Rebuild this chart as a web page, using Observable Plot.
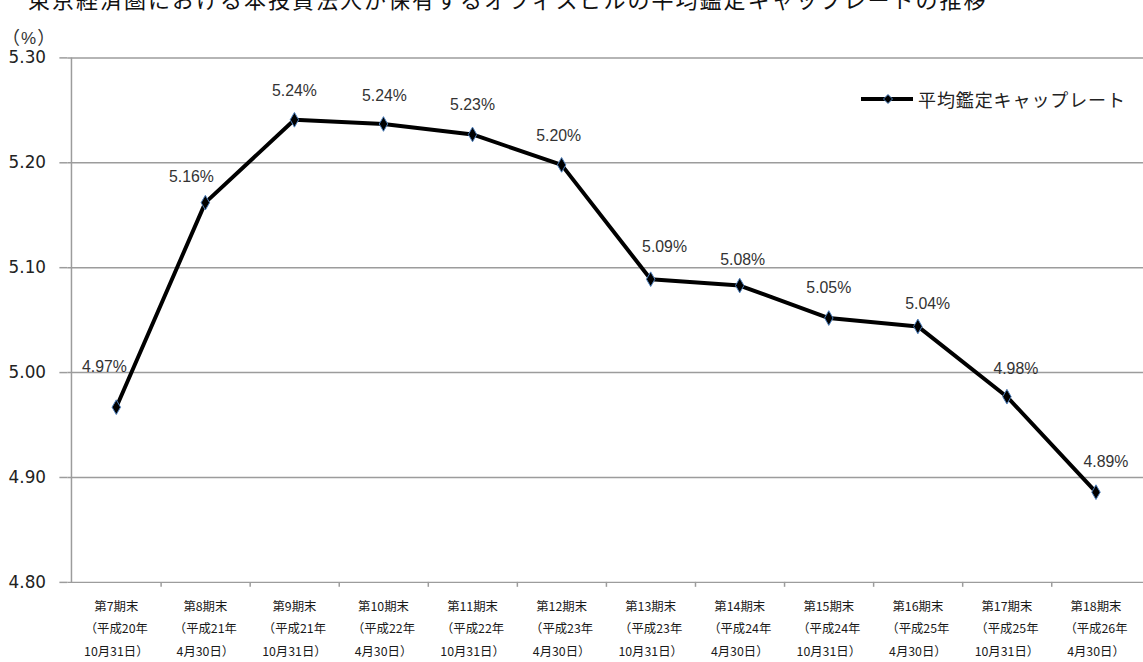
<!DOCTYPE html>
<html><head><meta charset="utf-8">
<script src="https://cdn.jsdelivr.net/npm/d3@7"></script>
<script src="https://cdn.jsdelivr.net/npm/@observablehq/plot@0.6"></script>
<style>
html,body{margin:0;padding:0;background:#fff;overflow:hidden;}
#wrap{position:relative;width:1143px;height:662px;overflow:hidden;background:#fff;}
#chart{position:absolute;left:0;top:0;}
#title{position:absolute;left:28px;top:-13px;font-size:22px;line-height:22px;font-family:"Noto Sans CJK JP";letter-spacing:2px;white-space:nowrap;color:#111;}
#unit{position:absolute;left:2px;top:26px;font-size:18px;line-height:20px;font-family:"Noto Sans CJK JP";color:#333;white-space:nowrap;}
#unit .pct{font-family:"Liberation Sans";font-size:17px;padding:0 1px;}
#legend{position:absolute;left:861px;top:89px;display:flex;align-items:center;font-size:18px;line-height:20px;font-family:"Noto Sans CJK JP";letter-spacing:0.9px;color:#222;}
#legend svg{margin-right:5px;}
</style></head><body>
<div id="wrap">
  <div id="chart"></div>
  <div id="title">東京経済圏における本投資法人が保有するオフィスビルの平均鑑定キャップレートの推移</div>
  <div id="unit">（<span class="pct">%</span>）</div>
  <div id="legend"><svg width="52" height="12"><line x1="0" y1="6" x2="52" y2="6" stroke="#000" stroke-width="4"/><path d="M27,1.5 L31.5,6 L27,10.5 L22.5,6 Z" fill="#000" stroke="#4f81bd" stroke-width="1"/></svg><span>平均鑑定キャップレート</span></div>
</div>
<script>
const periods = ["第7期末","第8期末","第9期末","第10期末","第11期末","第12期末","第13期末","第14期末","第15期末","第16期末","第17期末","第18期末"];
const eras = ["平成20年","平成21年","平成21年","平成22年","平成22年","平成23年","平成23年","平成24年","平成24年","平成25年","平成25年","平成26年"];
const days = ["10月31日","4月30日","10月31日","4月30日","10月31日","4月30日","10月31日","4月30日","10月31日","4月30日","10月31日","4月30日"];
const capRates = [4.967, 5.162, 5.241, 5.237, 5.227, 5.198, 5.089, 5.083, 5.052, 5.044, 4.977, 4.886];
const yTicks = [4.80, 4.90, 5.00, 5.10, 5.20, 5.30];
const seriesName = "平均鑑定キャップレート";

// label placement nudges (style only, in pixels)
const labelDx = [-12, -14, 0, 1, 0, -3, 14, 3, 0, 10, 9, 10];
const labelDy = [-41, -26, -29, -28, -30, -29, -33, -26, -30, -23, -28, -31];

const cats = periods.map((p, i) => `${p}\n（${eras[i]}\n${days[i]}）`);
const data = cats.map((c, i) => ({cat: c, v: capRates[i], i}));

const W = 1155, ML = 68, MR = 0;
const step = (W - ML - MR) / cats.length;
const gridColor = "#9c9c9c";

const labelMarks = data.map(d => Plot.text([d], {
  x: "cat", y: "v", text: r => d3.format(".2f")(r.v) + "%",
  dx: labelDx[d.i], dy: labelDy[d.i], fontSize: 16, fontFamily: "Liberation Sans", fill: "#333"
}));

const chart = Plot.plot({
  width: W, height: 662,
  marginTop: 58, marginBottom: 74, marginLeft: ML, marginRight: MR,
  style: {background: "transparent", fontFamily: "Noto Sans CJK JP", overflow: "visible"},
  x: {type: "point", domain: cats, padding: 0.5, axis: null},
  y: {domain: [4.80, 5.30], axis: null},
  marks: [
    Plot.ruleY(yTicks, {stroke: gridColor, strokeWidth: 1.5}),
    Plot.ruleX([cats[0]], {y1: 4.80, y2: 5.30, dx: -step / 2, stroke: gridColor, strokeWidth: 1.5}),
    Plot.axisY({ticks: yTicks, tickSize: 8, tickFormat: () => "", stroke: gridColor, strokeWidth: 1.5, label: null}),
    Plot.axisY({ticks: yTicks, tickSize: 0, tickPadding: 22, tickFormat: d3.format(".2f"), fontSize: 17, fontFamily: "DejaVu Sans", color: "#222", label: null}),
    Plot.axisX({ticks: cats.slice(0, -1), tickSize: 5, tickFormat: () => "", dx: step / 2, stroke: gridColor, strokeWidth: 1.5, label: null}),
    Plot.axisX({tickSize: 0, tickPadding: 13, fontSize: 12.5, lineHeight: 1.8, fontFamily: "Noto Sans CJK JP", color: "#1a1a1a", label: null}),
    Plot.line(data, {x: "cat", y: "v", stroke: "#000", strokeWidth: 4, strokeLinejoin: "round"}),
    Plot.dot(data, {x: "cat", y: "v", symbol: "diamond", r: 4.5, fill: "#000", stroke: "#4f81bd", strokeWidth: 1}),
    ...labelMarks
  ]
});
document.getElementById("chart").appendChild(chart);
</script>
</body></html>
